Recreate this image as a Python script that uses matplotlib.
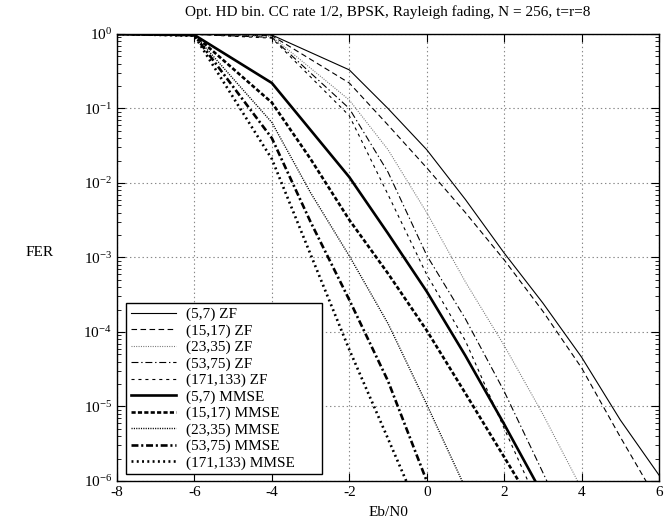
import matplotlib
matplotlib.use("Agg")
import matplotlib.pyplot as plt
from matplotlib.ticker import LogLocator, FixedLocator, FuncFormatter, NullFormatter
import numpy as np

plt.rcParams['font.family'] = ['Liberation Serif', 'DejaVu Serif']
plt.rcParams['mathtext.fontset'] = 'custom'
plt.rcParams['mathtext.rm'] = 'Liberation Serif'
plt.rcParams['mathtext.default'] = 'regular'
plt.rcParams['axes.unicode_minus'] = False
plt.rcParams['lines.scale_dashes'] = False

title = "Opt. HD bin. CC rate 1/2, BPSK, Rayleigh fading, N = 256, t=r=8"
xlabel = "Eb/N0"
ylabel = "FER"

labels = ["(5,7) ZF", "(15,17) ZF", "(23,35) ZF", "(53,75) ZF", "(171,133) ZF",
          "(5,7) MMSE", "(15,17) MMSE", "(23,35) MMSE", "(53,75) MMSE", "(171,133) MMSE"]

# ZF curves
x_zf_57 = [-8, -6, -4, -2, -1, 0, 1, 2, 3, 4, 5, 6]
y_zf_57 = [1.0, 0.995, 0.97, 0.33, 0.1, 0.028, 6e-3, 1.15e-3, 2.45e-4, 4.6e-5, 6.6e-6, 1.2e-6]
x_zf_1517 = [-8, -6, -4, -2, -1, 0, 1, 2, 3, 4, 5, 6]
y_zf_1517 = [1.0, 0.99, 0.95, 0.22, 0.06, 0.016, 4e-3, 9.3e-4, 1.9e-4, 3.3e-5, 3.9e-6, 5e-7]
x_zf_2335 = [-8, -6, -4, -2, -1, 0, 1, 2, 3, 4]
y_zf_2335 = [1.0, 0.99, 0.93, 0.13, 0.028, 4e-3, 4.7e-4, 6.6e-5, 7.9e-6, 7.9e-7]
x_zf_5375 = [-8, -6, -4, -2, -1, 0, 1, 2, 3, 4]
y_zf_5375 = [1.0, 0.99, 0.9, 0.1, 0.014, 1.07e-3, 1.5e-4, 1.6e-5, 1.3e-6, 1e-7]
x_zf_171133 = [-8, -6, -4, -2, -1, 0, 1, 2, 3]
y_zf_171133 = [1.0, 0.99, 0.88, 0.08, 7e-3, 5.9e-4, 7.6e-5, 5.1e-6, 3.6e-7]

# MMSE curves
x_mm_57 = [-8, -6, -4, -2, -1, 0, 1, 2, 3]
y_mm_57 = [1.0, 0.97, 0.22, 0.012, 2.1e-3, 3.5e-4, 4.8e-5, 5.8e-6, 6.5e-7]
x_mm_1517 = [-8, -6, -4, -3, -2, -1, 0, 1, 2, 3]
y_mm_1517 = [1.0, 0.97, 0.12, 0.021, 3.2e-3, 6.1e-4, 1.05e-4, 1.5e-5, 2.1e-6, 2.9e-7]
x_mm_2335 = [-8, -6, -4, -3, -2, -1, 0, 1]
y_mm_2335 = [1.0, 0.97, 0.065, 7.4e-3, 1.05e-3, 1.3e-4, 1.07e-5, 8e-7]
x_mm_5375 = [-8, -6, -4, -3, -2, -1, 0, 1]
y_mm_5375 = [1.0, 0.96, 0.04, 3e-3, 2.7e-4, 2.2e-5, 1e-6, 5e-8]
x_mm_171133 = [-8, -6, -4, -3, -2, -1, 0]
y_mm_171133 = [1.0, 0.95, 0.021, 1.1e-3, 5.8e-5, 3.7e-6, 2.3e-7]

xs = [x_zf_57, x_zf_1517, x_zf_2335, x_zf_5375, x_zf_171133,
      x_mm_57, x_mm_1517, x_mm_2335, x_mm_5375, x_mm_171133]
ys = [y_zf_57, y_zf_1517, y_zf_2335, y_zf_5375, y_zf_171133,
      y_mm_57, y_mm_1517, y_mm_2335, y_mm_5375, y_mm_171133]

styles = [
    dict(color='black', lw=0.8, ls='-'),
    dict(color='black', lw=0.8, dashes=(4, 2.5)),
    dict(color='#707070', lw=0.8, dashes=(0.7, 1.0)),
    dict(color='black', lw=0.8, dashes=(5, 2, 1, 2)),
    dict(color='black', lw=0.8, dashes=(2.2, 2.8)),
    dict(color='black', lw=1.9, ls='-'),
    dict(color='black', lw=1.9, dashes=(3, 1.6)),
    dict(color='black', lw=1.0, dashes=(0.8, 0.9)),
    dict(color='black', lw=1.9, dashes=(5, 2, 1.5, 2)),
    dict(color='black', lw=1.9, dashes=(1.4, 2.4)),
]

fig = plt.figure(figsize=(6.68, 5.21), dpi=100)
ax = fig.add_axes([117/668, 1-481/521, (659-117)/668, (481-34)/521])

for x, y, lab, st in zip(xs, ys, labels, styles):
    ax.plot(x, y, label=lab, **st)

ax.set_yscale('log')
ax.set_xlim(-8, 6)
ax.set_ylim(1e-6, 1)
ax.xaxis.set_major_locator(FixedLocator([-8, -6, -4, -2, 0, 2, 4, 6]))
ax.yaxis.set_major_locator(LogLocator(base=10, numticks=10))
ax.yaxis.set_minor_locator(LogLocator(base=10, subs=np.arange(2, 10), numticks=20))
ax.yaxis.set_minor_formatter(NullFormatter())
ax.yaxis.set_major_formatter(FuncFormatter(lambda v, p: r'$10^{%d}$' % int(round(np.log10(v)))))
ax.tick_params(which='both', direction='in', top=True, right=True, labelsize=11)
ax.tick_params(which='major', length=6, width=0.8)
ax.tick_params(which='minor', length=3, width=0.6)
ax.grid(True, which='major', color='#888888', ls=(0, (1, 2)), lw=0.8)
for s in ax.spines.values():
    s.set_linewidth(1.0)

lx0 = (126 - 117) / 542
lx1 = (322 - 117) / 542
ly1 = (481 - 303) / 447
leg = ax.legend(loc='upper left', bbox_to_anchor=(lx0, ly1 - 0.5, lx1 - lx0, 0.5),
                mode='expand', fontsize=11,
                frameon=True, fancybox=False, edgecolor='black', framealpha=1,
                handlelength=3.0, handletextpad=0.6, labelspacing=0.17,
                borderpad=0.3, borderaxespad=0.0)
leg.get_frame().set_linewidth(1.0)

fig.text(388/668, 1-12/521, title, ha='center', va='center', fontsize=11)
fig.text(388/668, 1-512/521, xlabel, ha='center', va='center', fontsize=11)
fig.text(40/668, 1-252/521, ylabel, ha='center', va='center', fontsize=11)

fig.savefig('out.png', dpi=100)
